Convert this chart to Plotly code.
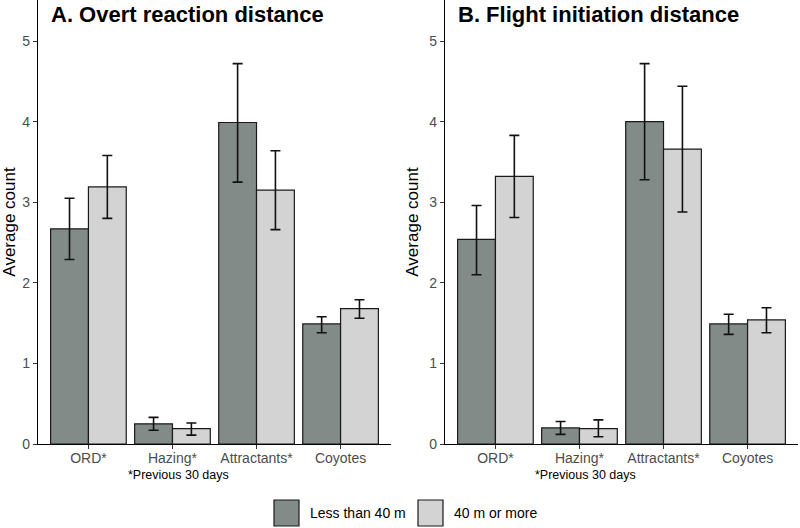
import plotly.graph_objects as go

# ---------------- data ----------------
categories = ["ORD*", "Hazing*", "Attractants*", "Coyotes"]
groups = ["Less than 40 m", "40 m or more"]

# Panel A: Overt reaction distance
a_less_mean = [2.67, 0.25, 3.99, 1.49]
a_less_low = [2.29, 0.17, 3.25, 1.38]
a_less_high = [3.05, 0.33, 4.72, 1.58]
a_more_mean = [3.19, 0.19, 3.15, 1.68]
a_more_low = [2.80, 0.11, 2.66, 1.56]
a_more_high = [3.58, 0.26, 3.64, 1.79]

# Panel B: Flight initiation distance
b_less_mean = [2.54, 0.20, 4.00, 1.49]
b_less_low = [2.10, 0.12, 3.28, 1.36]
b_less_high = [2.96, 0.28, 4.72, 1.61]
b_more_mean = [3.32, 0.19, 3.66, 1.54]
b_more_low = [2.81, 0.09, 2.88, 1.38]
b_more_high = [3.83, 0.30, 4.44, 1.69]

y_ticks = [0, 1, 2, 3, 4, 5]
titles = ["A. Overt reaction distance", "B. Flight initiation distance"]
footnote = "*Previous 30 days"

# ---------------- style ----------------
DARK = "#838b88"
LIGHT = "#d3d3d3"
OUTLINE = "#1a1a1a"
TICKC = "#4d4d4d"
FONT = "Arial, 'Liberation Sans', sans-serif"
W, H = 800, 528

fig = go.Figure()


def add_panel(suffix, less, more):
    for (mean, low, high), color, name in zip([less, more], [DARK, LIGHT], groups):
        fig.add_trace(go.Bar(
            x=list(range(len(categories))), y=mean, name=name,
            marker=dict(color=color, line=dict(color=OUTLINE, width=1.2)),
            error_y=dict(type="data", symmetric=False,
                         array=[h - m for h, m in zip(high, mean)],
                         arrayminus=[m - l for m, l in zip(mean, low)],
                         color="#111111", thickness=1.6, width=5),
            xaxis="x" + suffix, yaxis="y" + suffix, showlegend=False,
            offsetgroup=name,
        ))


add_panel("", (a_less_mean, a_less_low, a_less_high), (a_more_mean, a_more_low, a_more_high))
add_panel("2", (b_less_mean, b_less_low, b_less_high), (b_more_mean, b_more_low, b_more_high))

ybot = (H - 444) / H
xdomA = [38 / W, 391 / W]
xdomB = [445 / W, 798 / W]

xcommon = dict(range=[-0.6, 3.6], tickmode="array", tickvals=list(range(len(categories))),
               ticktext=categories, showline=True, linecolor="black", linewidth=1.2,
               ticks="outside", ticklen=4, tickcolor="#333333", showgrid=False, zeroline=False,
               tickfont=dict(family=FONT, size=14, color=TICKC), fixedrange=True,
               automargin=False, ticklabelstandoff=-3)
ycommon = dict(range=[0, 5.51], tickvals=y_ticks, showline=True, linecolor="black", linewidth=1.2,
               ticks="outside", ticklen=4, tickcolor="#333333", showgrid=False, zeroline=False,
               tickfont=dict(family=FONT, size=14, color=TICKC),
               title=dict(text="Average count", font=dict(family=FONT, size=17, color="black"), standoff=6),
               domain=[ybot, 1], fixedrange=True, automargin=False)

fig.update_layout(
    width=W, height=H, margin=dict(l=0, r=0, t=0, b=0, autoexpand=False),
    paper_bgcolor="white", plot_bgcolor="white",
    barmode="group", bargap=0.1, bargroupgap=0,
    showlegend=False,
    xaxis=dict(domain=xdomA, anchor="y", **xcommon),
    yaxis=dict(anchor="x", **ycommon),
    xaxis2=dict(domain=xdomB, anchor="y2", **xcommon),
    yaxis2=dict(anchor="x2", **ycommon),
    font=dict(family=FONT),
)

# panel titles and footnotes
for xref, xd, t in [("x", xdomA, titles[0]), ("x2", xdomB, titles[1])]:
    fig.add_annotation(text="<b>" + t + "</b>", xref="paper", yref="paper",
                       x=xd[0] + 11 / W, y=1 - 0 / H, xanchor="left", yanchor="top",
                       showarrow=False, font=dict(family=FONT, size=22, color="black"))
    fig.add_annotation(text=footnote, xref=xref, yref="paper", x=1, xshift=6,
                       y=(H - 475) / H, yanchor="middle", showarrow=False,
                       font=dict(family=FONT, size=12.5, color="black"))

# legend (bottom, centred)
legend_items = [(groups[0], DARK, 274), (groups[1], LIGHT, 418)]
for name, color, px in legend_items:
    fig.add_shape(type="rect", xref="paper", yref="paper",
                  x0=px / W, x1=(px + 25) / W, y0=(H - 526) / H, y1=(H - 500) / H,
                  fillcolor=color, line=dict(color=OUTLINE, width=1.2))
    fig.add_annotation(text=name, xref="paper", yref="paper", x=(px + 34) / W,
                       y=(H - 513) / H, xanchor="left", yanchor="middle", showarrow=False,
                       font=dict(family=FONT, size=14, color="black"))

fig.write_html("out.html")
